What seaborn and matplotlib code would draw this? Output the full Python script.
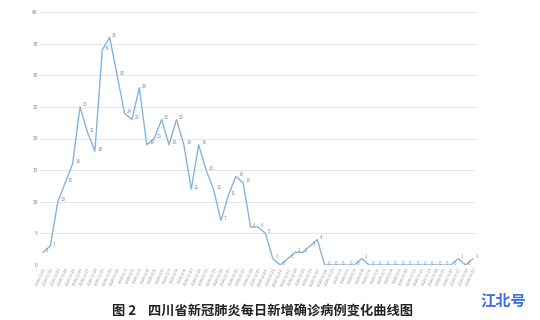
import matplotlib
matplotlib.use("Agg")
import matplotlib.pyplot as plt
import seaborn as sns
import pandas as pd
import numpy as np

# ---- data ----
dates = pd.date_range("2020-01-21", periods=59)
date_labels = [f"{d.year}/{d.month}/{d.day}" for d in dates]
new_cases = [2, 3, 10, 13, 16, 25, 21, 18, 34, 36,
             30, 24, 23, 28, 19, 20, 23, 19, 23, 19,
             12, 19, 15, 12, 7, 11, 14, 13, 6, 6,
             5, 1, 0, 1, 2, 2, 3, 4, 0, 0,
             0, 0, 0, 1, 0, 0, 0, 0, 0, 0,
             0, 0, 0, 0, 0, 0, 1, 0, 1]
y_ticks = [0, 5, 10, 15, 20, 25, 30, 35, 40]
title = "图 2    四川省新冠肺炎每日新增确诊病例变化曲线图"
watermark = "江北号"

df = pd.DataFrame({"idx": np.arange(len(new_cases)), "cases": new_cases})

sns.set_theme(style="white")
plt.rcParams["font.family"] = ["Noto Sans CJK SC", "DejaVu Sans"]

fig = plt.figure(figsize=(5.4, 3.2), dpi=100)
ax = fig.add_axes([40 / 540, 1 - 265 / 320, 436 / 540, (265 - 12) / 320])

for t in y_ticks:
    ax.axhline(t, color="#e6e6e6", lw=0.7, zorder=0)

sns.lineplot(data=df, x="idx", y="cases", ax=ax, color="#86b3de", lw=1.0)

for i, v in zip(df["idx"], df["cases"]):
    ax.text(i + 0.35, v + 0.3, str(v), fontsize=3.2, color="#8a8a8a",
            ha="left", va="center")

ax.set_xlim(-0.4, len(new_cases) - 1 + 0.4)
ax.set_ylim(0, 40)
ax.set_yticks(y_ticks)
ax.set_yticklabels([str(t) for t in y_ticks], fontsize=3.5, color="#808080")
ax.set_xticks(df["idx"])
ax.set_xticklabels(date_labels, rotation=65, fontsize=3, color="#8f8f8f",
                   ha="right", rotation_mode="anchor")
ax.tick_params(axis="both", length=0, pad=1.5)
ax.set_xlabel("")
ax.set_ylabel("")
for s in ax.spines.values():
    s.set_visible(False)

fig.text(262 / 540, 1 - 312 / 320, title, fontsize=9.5, fontweight="bold",
         ha="center", va="center", color="#222222")
fig.text(503 / 540, 1 - 300 / 320, watermark, fontsize=11, fontweight="bold",
         ha="center", va="center", color="#3d6fe0")

fig.savefig("out.png", dpi=100)
